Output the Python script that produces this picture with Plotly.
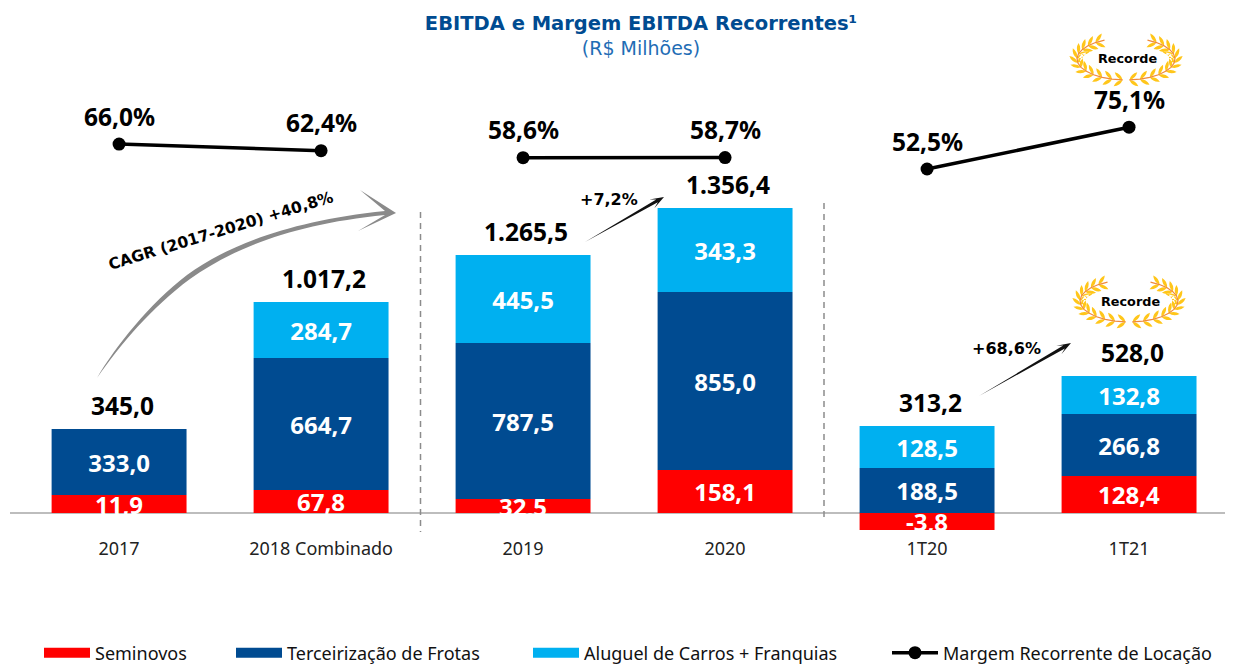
import math
import plotly.graph_objects as go

# ---------- data ----------
categories = ["2017", "2018 Combinado", "2019", "2020", "1T20", "1T21"]

# Printed value labels
seminovos_labels = ["11,9", "67,8", "32,5", "158,1", "-3,8", "128,4"]
frotas_labels = ["333,0", "664,7", "787,5", "855,0", "188,5", "266,8"]
aluguel_labels = ["", "284,7", "445,5", "343,3", "128,5", "132,8"]
total_labels = ["345,0", "1.017,2", "1.265,5", "1.356,4", "313,2", "528,0"]

# Bar lengths as drawn in the picture (the source does not draw all to the printed value)
seminovos_drawn = [90, 115, 70, 215, -85, 185]
frotas_drawn = [330, 660, 780, 890, 225, 310]
aluguel_drawn = [0, 280, 440, 420, 210, 190]

margem = [66.0, 62.4, 58.6, 58.7, 52.5, 75.1]
margem_labels = ["66,0%", "62,4%", "58,6%", "58,7%", "52,5%", "75,1%"]

RED, NAVY, SKY = "#FF0000", "#004B91", "#00B0F0"
FONT = "Noto Sans"
SMALL = "DejaVu Sans"
W, H = 1241, 664
L, R, T, B = 10, 16, 0, 134
PW, PH = W - L - R, H - T - B


def px(x):
    return (x - L) / PW


def py(y):
    return 1 - (y - T) / PH


def pt(x, y):
    return f"{px(x):.5f},{py(y):.5f}"


fig = go.Figure()
for name, drawn, labels, color in [
    ("Seminovos", seminovos_drawn, seminovos_labels, RED),
    ("Terceirização de Frotas", frotas_drawn, frotas_labels, NAVY),
    ("Aluguel de Carros + Franquias", aluguel_drawn, aluguel_labels, SKY),
]:
    fig.add_trace(go.Bar(
        x=categories, y=drawn, name=name, text=labels, marker=dict(color=color, line=dict(width=0)),
        textposition="inside", insidetextanchor="middle", textangle=0, constraintext="none",
        insidetextfont=dict(color="white", size=24, family=FONT, weight="bold"),
        hoverinfo="skip", showlegend=False,
    ))

# Margin line, broken between the three periods
line_x, line_y = [], []
for i, (c, m) in enumerate(zip(categories, margem)):
    line_x.append(c)
    line_y.append(m)
    if i in (1, 3):
        line_x.append(None)
        line_y.append(None)

# Legend entries
for i, (name, color) in enumerate([("Seminovos", RED), ("Terceirização de Frotas", NAVY),
                                   ("Aluguel de Carros + Franquias", SKY)]):
    fig.add_trace(go.Scatter(
        x=[None], y=[None], mode="lines", name=name, line=dict(color=color, width=13),
        legend="legend" if i == 0 else f"legend{i + 1}", showlegend=True,
    ))
fig.add_trace(go.Scatter(
    x=line_x, y=line_y, yaxis="y2", mode="lines+markers", name="Margem Recorrente de Locação",
    line=dict(color="black", width=3.5), marker=dict(color="black", size=13),
    legend="legend4", hoverinfo="skip",
))

ann = []
stack_tops = [s + f + a if s > 0 else f + a for s, f, a in zip(seminovos_drawn, frotas_drawn, aluguel_drawn)]
for i, (top, lab) in enumerate(zip(stack_tops, total_labels)):
    ann.append(dict(x=i, y=top, text=f"<b>{lab}</b>", showarrow=False, yanchor="bottom", yshift=5, xshift=3,
                    font=dict(size=24.5, color="black", family=FONT)))
for i, (m, lab) in enumerate(zip(margem, margem_labels)):
    ann.append(dict(x=i, y=m, yref="y2", text=f"<b>{lab}</b>", showarrow=False, yanchor="middle", yshift=28,
                    font=dict(size=24.5, color="black", family=FONT)))


def text_px(x, y, text, size, angle=0, color="black", family=SMALL):
    ann.append(dict(x=px(x), y=py(y), xref="paper", yref="paper", text=f"<b>{text}</b>", showarrow=False,
                    xanchor="center", yanchor="middle", textangle=angle,
                    font=dict(size=size, color=color, family=family)))


text_px(221, 231, "CAGR (2017-2020) +40,8%", 15.6, -17)
text_px(609, 199, "+7,2%", 16)
text_px(1007, 348, "+68,6%", 16)
text_px(1127, 59, "Recorde", 12.8)
text_px(1130, 301, "Recorde", 12.8)

shapes = []
# separators
for x, y0, y1 in [(420.5, 212, 532), (824, 203, 522)]:
    shapes.append(dict(type="line", xref="paper", yref="paper", x0=px(x), x1=px(x), y0=py(y0), y1=py(y1),
                       line=dict(color="#8C8C8C", width=1.5, dash="6px,5px")))

# curved CAGR arrow
cagr = (f"M{pt(97, 378)} C{pt(115, 347)} {pt(150, 303)} {pt(187, 275)} "
        f"C{pt(228, 245)} {pt(290, 221)} {pt(385, 211)} L{pt(360, 190)} L{pt(396, 213)} L{pt(358, 231)} "
        f"L{pt(385, 215)} C{pt(295, 224)} {pt(235, 247)} {pt(190, 279)} C{pt(152, 307)} {pt(120, 345)} {pt(97, 378)} Z")
shapes.append(dict(type="path", xref="paper", yref="paper", path=cagr, fillcolor="#8A8A8A", line=dict(width=0)))


def tapered_arrow(x0, y0, x1, y1):
    d = math.hypot(x1 - x0, y1 - y0)
    ux, uy = (x1 - x0) / d, (y1 - y0) / d
    nx, ny = -uy, ux

    def p(a, b):
        return pt(x0 + ux * a + nx * b, y0 + uy * a + ny * b)
    return (f"M{p(0, 0)} L{p(d - 8, -1.6)} L{p(d - 14, -5)} L{p(d, 0)} L{p(d - 14, 5)} L{p(d - 8, 1.6)} Z")


for a in [(585, 242, 664, 197), (979, 396, 1071, 343)]:
    shapes.append(dict(type="path", xref="paper", yref="paper", path=tapered_arrow(*a), fillcolor="#111111",
                       line=dict(width=0)))


def wreath(cx, cy, rx=49, ry=21, n=12):
    leaves, stems = "", ""
    for side in (-1, 1):
        pts = []
        for i in range(n + 1):
            t = math.radians(4 + 150 * i / n)
            pts.append((cx + side * rx * math.sin(t), cy + ry * math.cos(t)))
        stems += f"M{pt(*pts[0])} " + " ".join(f"L{pt(*q)}" for q in pts[1:]) + " "
        for i in range(n):
            (x0, y0), (x1, y1) = pts[i], pts[i + 1]
            base = math.atan2(y1 - y0, x1 - x0)
            for off in (-0.7, 0.7):
                a = base + off
                ln = 11
                tx, ty = x0 + ln * math.cos(a), y0 + ln * math.sin(a)
                mx, my = (x0 + tx) / 2, (y0 + ty) / 2
                nx, ny = -math.sin(a) * 3.4, math.cos(a) * 3.4
                leaves += (f"M{pt(x0, y0)} Q{pt(mx + nx, my + ny)} {pt(tx, ty)} "
                           f"Q{pt(mx - nx, my - ny)} {pt(x0, y0)} Z ")
    return leaves, stems


for cx, cy in [(1126, 59), (1129, 301)]:
    lv, st = wreath(cx, cy)
    shapes.append(dict(type="path", xref="paper", yref="paper", path=lv, fillcolor="#FFC61A", line=dict(width=0)))
    shapes.append(dict(type="path", xref="paper", yref="paper", path=st, line=dict(color="#F08A3C", width=1.2)))

legend_base = dict(orientation="h", xref="container", yref="container", xanchor="left", yanchor="middle",
                   y=1 - 653 / H, itemwidth=46, bgcolor="rgba(0,0,0,0)", borderwidth=0, itemclick=False,
                   itemdoubleclick=False, font=dict(size=18, color="#111111", family=FONT))

fig.update_layout(
    width=W, height=H, autosize=False, barmode="relative", bargap=0.332,
    margin=dict(l=L, r=R, t=T, b=B, pad=0, autoexpand=False),
    paper_bgcolor="white", plot_bgcolor="white", showlegend=True,
    title=dict(
        text="<b>EBITDA e Margem EBITDA Recorrentes¹</b><br>"
             "<span style='font-size:19px;color:#1F6DB5'>(R$ Milhões)</span>",
        x=641 / W, xanchor="center", y=1 - 30 / H, yanchor="top", xref="container", yref="container",
        font=dict(size=19.5, color="#004B91", family="DejaVu Sans"), pad=dict(t=0, b=0, l=0, r=0)),
    xaxis=dict(type="category", categoryorder="array", categoryarray=categories, range=[-0.54, 5.475],
               showgrid=False, showline=False, ticks="", ticklabelstandoff=6, fixedrange=True,
               tickfont=dict(size=18, color="#222222", family=FONT)),
    yaxis=dict(range=[-85, 2565], visible=True, showticklabels=False, showgrid=False, ticks="", zeroline=True,
               zerolinecolor="#BDBDBD", zerolinewidth=1.5, fixedrange=True),
    yaxis2=dict(range=[-142.6, 143.84], overlaying="y", visible=False, fixedrange=True),
    annotations=ann, shapes=shapes,
    legend=dict(legend_base, x=39 / W),
    legend2=dict(legend_base, x=231 / W),
    legend3=dict(legend_base, x=528 / W),
    legend4=dict(legend_base, x=887 / W),
)

fig.write_html("out.html", config={"displayModeBar": False},
               post_script="document.body.style.margin='0';")
